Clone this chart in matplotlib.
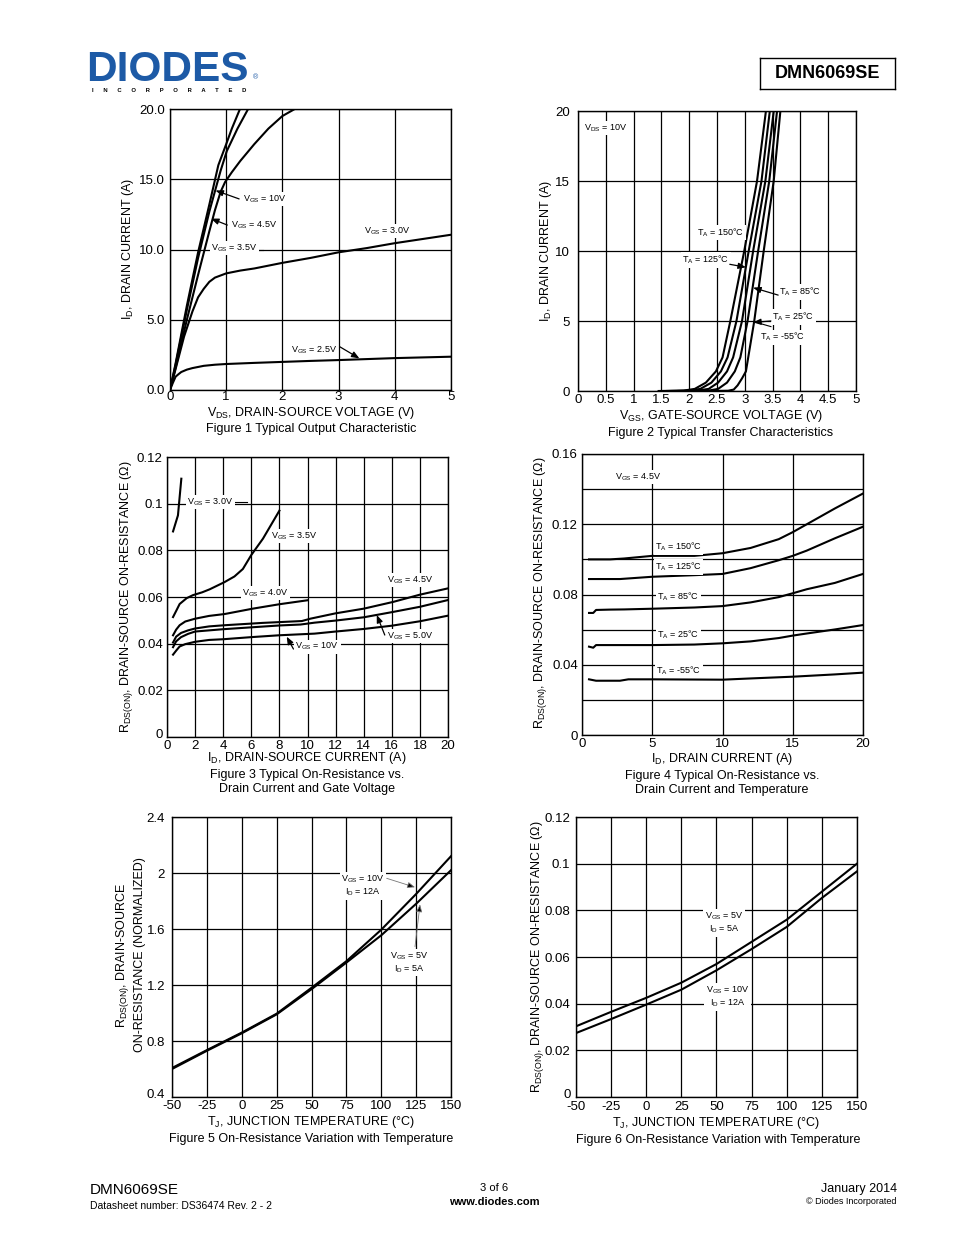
import matplotlib
matplotlib.use('Agg')
import matplotlib.pyplot as plt
from matplotlib.transforms import ScaledTranslation

plt.rcParams['font.family'] = ['Liberation Sans', 'DejaVu Sans']
plt.rcParams['mathtext.fontset'] = 'custom'
plt.rcParams['mathtext.rm'] = 'Liberation Sans'
plt.rcParams['mathtext.it'] = 'Liberation Sans'
plt.rcParams['mathtext.bf'] = 'Liberation Sans:bold'
plt.rcParams['mathtext.default'] = 'regular'

# ---------------- DATA ----------------
# Figure 1: output characteristic (VDS [V], ID [A])
f1_vds_10 = [0, 0.1, 0.3, 0.5, 0.7, 0.86, 1.0, 1.1, 1.245]
f1_id_10 = [0, 1.9, 6.0, 9.8, 13.2, 16.0, 17.5, 18.6, 20.0]
f1_vds_45 = [0, 0.1, 0.3, 0.5, 0.7, 0.9, 1.01, 1.2, 1.39]
f1_id_45 = [0, 1.8, 5.7, 9.4, 12.7, 15.6, 17.0, 18.6, 20.0]
f1_vds_35 = [0, 0.1, 0.3, 0.5, 0.7, 0.8, 0.9, 0.98, 1.1, 1.25, 1.5, 1.75, 2.0, 2.22]
f1_id_35 = [0, 1.6, 5.0, 8.2, 11.3, 12.8, 14.1, 14.8, 15.5, 16.3, 17.5, 18.6, 19.5, 20.0]
f1_vds_30 = [0, 0.1, 0.25, 0.4, 0.5, 0.6, 0.7, 0.8, 0.9, 1.0, 1.25, 1.5, 2, 2.5, 3, 3.5, 4, 4.5, 5]
f1_id_30 = [0, 1.5, 3.8, 5.6, 6.6, 7.2, 7.7, 8.0, 8.15, 8.3, 8.5, 8.65, 9.05, 9.4, 9.8, 10.1, 10.45, 10.75, 11.05]
f1_vds_25 = [0, 0.05, 0.1, 0.15, 0.2, 0.3, 0.4, 0.6, 0.8, 1.0, 1.5, 2, 2.5, 3, 3.5, 4, 4.5, 5]
f1_id_25 = [0, 0.5, 0.95, 1.12, 1.28, 1.45, 1.56, 1.72, 1.8, 1.85, 1.93, 2.0, 2.07, 2.13, 2.2, 2.27, 2.32, 2.37]

# Figure 2: transfer characteristic (VGS [V], ID [A])
f2_id = [0, 0.03, 0.15, 0.6, 1.4, 2.4, 5, 10, 15, 20]
f2_vgs_150 = [1.45, 1.9, 2.1, 2.3, 2.48, 2.6, 2.74, 2.99, 3.22, 3.38]
f2_vgs_125 = [1.6, 2.0, 2.2, 2.4, 2.57, 2.69, 2.85, 3.07, 3.30, 3.45]
f2_vgs_85 = [1.8, 2.15, 2.35, 2.52, 2.68, 2.79, 2.95, 3.15, 3.37, 3.52]
f2_vgs_25 = [2.0, 2.35, 2.52, 2.68, 2.82, 2.92, 3.05, 3.24, 3.44, 3.58]
f2_id_m55 = [0, 0.02, 0.1, 0.4, 0.9, 1.4, 5, 10, 15, 20]
f2_vgs_m55 = [2.3, 2.7, 2.8, 2.87, 2.95, 3.02, 3.17, 3.34, 3.52, 3.64]

# Figure 3: RDS(ON) vs ID and VGS
f3_id_30 = [0.43, 0.78, 1.02]
f3_r_30 = [0.0881, 0.095, 0.1107]
f3_id_35 = [0.43, 0.65, 0.9, 1.4, 1.85, 2.5, 3.04, 4.1, 4.8, 5.4, 6.0, 6.83, 8.0]
f3_r_35 = [0.0514, 0.054, 0.057, 0.0595, 0.0608, 0.062, 0.0633, 0.0664, 0.0688, 0.072, 0.078, 0.085, 0.097]
f3_id_40 = [0.43, 0.65, 0.9, 1.3, 2.0, 3.0, 4.1, 6.1, 8.0, 10.0]
f3_r_40 = [0.0436, 0.046, 0.0479, 0.0495, 0.0507, 0.0519, 0.0527, 0.055, 0.0569, 0.0586]
f3_id_45 = [0.43, 0.65, 1.0, 1.5, 2, 3, 4.1, 6.8, 9.6, 10.2, 12, 14, 16.1, 18, 20]
f3_r_45 = [0.0405, 0.043, 0.0446, 0.0457, 0.0465, 0.0474, 0.0479, 0.0489, 0.0497, 0.0507, 0.053, 0.055, 0.0579, 0.061, 0.0637]
f3_id_50 = [0.43, 0.65, 1.0, 1.5, 2, 4, 6, 8, 9.5, 10.5, 12, 14, 16, 18, 20]
f3_r_50 = [0.0385, 0.041, 0.0428, 0.0442, 0.0452, 0.0462, 0.047, 0.0478, 0.0482, 0.049, 0.0499, 0.0513, 0.0535, 0.0558, 0.0587]
f3_id_10 = [0.43, 0.65, 0.9, 1.3, 2, 3, 4, 6, 8, 10.5, 12, 14, 16, 18, 20]
f3_r_10 = [0.0353, 0.037, 0.0388, 0.0398, 0.0408, 0.0416, 0.0419, 0.0428, 0.0436, 0.0443, 0.0452, 0.0463, 0.0477, 0.0496, 0.052]

# Figure 4: RDS(ON) vs ID and temperature
f4_id_150 = [0.5, 2, 3, 5, 8, 10, 12, 14, 15, 16, 18, 20]
f4_r_150 = [0.100, 0.100, 0.1005, 0.102, 0.102, 0.1035, 0.1065, 0.1115, 0.1155, 0.120, 0.129, 0.1375]
f4_id_125 = [0.5, 2.7, 5, 8, 10, 12, 14, 15, 16, 18, 20]
f4_r_125 = [0.0888, 0.0888, 0.0901, 0.091, 0.0917, 0.095, 0.0995, 0.102, 0.105, 0.112, 0.1186]
f4_id_85 = [0.5, 0.8, 1.0, 2, 3, 5, 8, 10, 12, 14, 15, 16, 18, 20]
f4_r_85 = [0.0695, 0.0695, 0.0712, 0.0714, 0.0715, 0.0719, 0.0726, 0.0734, 0.0755, 0.0785, 0.0807, 0.083, 0.0866, 0.0917]
f4_id_25 = [0.5, 0.8, 1.0, 2, 5, 8, 10, 12, 14, 15, 16, 18, 20]
f4_r_25 = [0.0503, 0.0497, 0.0512, 0.0512, 0.0512, 0.0515, 0.0522, 0.0533, 0.0552, 0.0566, 0.0578, 0.0601, 0.0626]
f4_id_m55 = [0.5, 1.0, 2.7, 3.3, 5, 10, 12, 15, 18, 20]
f4_r_m55 = [0.0317, 0.0309, 0.0309, 0.0317, 0.0317, 0.0315, 0.0322, 0.0332, 0.0345, 0.0355]

# Figure 5: normalized RDS(ON) vs temperature
f5_t = [-50, -25, 0, 25, 50, 75, 100, 125, 150]
f5_r_10v = [0.607, 0.735, 0.86, 0.995, 1.18, 1.37, 1.595, 1.85, 2.12]
f5_r_5v = [0.600, 0.730, 0.855, 0.990, 1.17, 1.36, 1.555, 1.78, 2.02]

# Figure 6: RDS(ON) vs temperature
f6_t = [-50, -25, 0, 25, 50, 75, 100, 125, 150]
f6_r_5v = [0.0303, 0.0365, 0.0425, 0.049, 0.057, 0.0665, 0.076, 0.088, 0.100]
f6_r_10v = [0.0274, 0.0334, 0.0396, 0.046, 0.0543, 0.0634, 0.0729, 0.0853, 0.0967]

# ---------------- FIGURE ----------------
W, H = 954, 1235
fig = plt.figure(figsize=(W / 100, H / 100), dpi=100)


def rect(l, t, r, b):
    return [l / W, 1 - b / H, (r - l) / W, (b - t) / H]


def ftext(x, y, s, **kw):
    kw.setdefault('ha', 'center')
    kw.setdefault('va', 'center')
    fig.text(x / W, 1 - y / H, s, **kw)


LW = 1.5
TICK_FS = 9.5
LAB_FS = 9
ANN_FS = 6.5
BOX = dict(facecolor='white', edgecolor='none', pad=1.0)


def setup(ax, xlim, ylim, xt, yt, xl, yl, ypad=3, xpad=2):
    ax.set_xlim(*xlim)
    ax.set_ylim(*ylim)
    ax.set_xticks(xt)
    ax.set_yticks(yt)
    ax.set_xticklabels(xl, fontsize=TICK_FS)
    ax.set_yticklabels(yl, fontsize=TICK_FS)
    ax.tick_params(length=0, pad=xpad, axis='x')
    ax.tick_params(length=0, pad=ypad, axis='y')
    ax.grid(True, color='black', lw=0.9)
    ax.set_axisbelow(True)
    for s in ax.spines.values():
        s.set_linewidth(1.0)


def lift_first_ylabel(ax, px=3):
    lab = ax.get_yticklabels()[0]
    lab.set_transform(lab.get_transform() + ScaledTranslation(0, px / 100, fig.dpi_scale_trans))


def label(ax, x, y, s, **kw):
    kw.setdefault('ha', 'center')
    kw.setdefault('va', 'center')
    ax.text(x, y, s, fontsize=ANN_FS, bbox=BOX, zorder=5, **kw)


def arrow(ax, x0, y0, x1, y1, color='black', lw=0.9):
    ax.annotate('', xy=(x1, y1), xytext=(x0, y0), zorder=6,
                arrowprops=dict(arrowstyle='-|>,head_length=0.45,head_width=0.18',
                                color=color, lw=lw, shrinkA=0, shrinkB=0,
                                fc='black', ec=color))


# ---- Figure 1 ----
ax1 = fig.add_axes(rect(170, 109, 451, 390))
setup(ax1, (0, 5), (0, 20), [0, 1, 2, 3, 4, 5], [0, 5, 10, 15, 20],
      ['0', '1', '2', '3', '4', '5'], ['0.0', '5.0', '10.0', '15.0', '20.0'],
      ypad=3.5, xpad=1)
for x, y in [(f1_vds_10, f1_id_10), (f1_vds_45, f1_id_45), (f1_vds_35, f1_id_35),
             (f1_vds_30, f1_id_30), (f1_vds_25, f1_id_25)]:
    ax1.plot(x, y, color='black', lw=LW, clip_on=True, zorder=3)
label(ax1, 1.69, 13.6, 'V$_{GS}$ = 10V')
arrow(ax1, 1.23, 13.6, 0.81, 14.2)
label(ax1, 1.50, 11.74, 'V$_{GS}$ = 4.5V')
arrow(ax1, 1.02, 11.74, 0.73, 12.2)
label(ax1, 1.14, 10.1, 'V$_{GS}$ = 3.5V')
ax1.plot([1.55, 1.65], [9.95, 9.95], color='black', lw=0.8, zorder=4)
label(ax1, 3.87, 11.3, 'V$_{GS}$ = 3.0V')
label(ax1, 2.56, 2.85, 'V$_{GS}$ = 2.5V')
arrow(ax1, 3.02, 3.08, 3.37, 2.25)
ftext(311, 413, 'V$_{DS}$, DRAIN-SOURCE VOLTAGE (V)', fontsize=LAB_FS)
ftext(311, 429, 'Figure 1 Typical Output Characteristic', fontsize=LAB_FS)
ftext(128, 249, 'I$_D$, DRAIN CURRENT (A)', fontsize=LAB_FS, rotation=90)

# ---- Figure 2 ----
ax2 = fig.add_axes(rect(578, 111, 856, 391))
xt2 = [0, 0.5, 1, 1.5, 2, 2.5, 3, 3.5, 4, 4.5, 5]
setup(ax2, (0, 5), (0, 20), xt2, [0, 5, 10, 15, 20],
      ['0', '0.5', '1', '1.5', '2', '2.5', '3', '3.5', '4', '4.5', '5'],
      ['0', '5', '10', '15', '20'], ypad=6)
for v in [f2_vgs_150, f2_vgs_125, f2_vgs_85, f2_vgs_25]:
    ax2.plot(v, f2_id, color='black', lw=LW, zorder=3)
ax2.plot(f2_vgs_m55, f2_id_m55, color='black', lw=LW, zorder=3)
label(ax2, 0.49, 18.8, 'V$_{DS}$ = 10V')
label(ax2, 2.57, 11.3, 'T$_A$ = 150°C')
label(ax2, 2.30, 9.36, 'T$_A$ = 125°C')
arrow(ax2, 2.73, 9.05, 3.02, 8.84)
label(ax2, 3.99, 7.07, 'T$_A$ = 85°C')
arrow(ax2, 3.60, 6.85, 3.15, 7.38)
label(ax2, 3.87, 5.28, 'T$_A$ = 25°C')
arrow(ax2, 3.47, 5.0, 3.15, 4.9)
ax2.plot([3.47, 3.25], [4.6, 4.85], color='black', lw=0.8, zorder=4)
label(ax2, 3.68, 3.84, 'T$_A$ = -55°C')
ftext(721, 416, 'V$_{GS}$, GATE-SOURCE VOLTAGE (V)', fontsize=LAB_FS)
ftext(721, 433, 'Figure 2 Typical Transfer Characteristics', fontsize=LAB_FS)
ftext(546, 251, 'I$_D$, DRAIN CURRENT (A)', fontsize=LAB_FS, rotation=90)

# ---- Figure 3 ----
ax3 = fig.add_axes(rect(167, 457, 448, 737))
setup(ax3, (0, 20), (0, 0.12), list(range(0, 21, 2)),
      [0, 0.02, 0.04, 0.06, 0.08, 0.1, 0.12],
      [str(v) for v in range(0, 21, 2)],
      ['0', '0.02', '0.04', '0.06', '0.08', '0.1', '0.12'], ypad=3)
lift_first_ylabel(ax3, 3)
for x, y in [(f3_id_30, f3_r_30), (f3_id_35, f3_r_35), (f3_id_40, f3_r_40),
             (f3_id_45, f3_r_45), (f3_id_50, f3_r_50), (f3_id_10, f3_r_10)]:
    ax3.plot(x, y, color='black', lw=LW, zorder=3)
label(ax3, 3.10, 0.1007, 'V$_{GS}$ = 3.0V')
ax3.plot([4.7, 5.7], [0.1005, 0.1005], color='black', lw=0.8, zorder=4)
label(ax3, 9.04, 0.0861, 'V$_{GS}$ = 3.5V')
label(ax3, 6.98, 0.0616, 'V$_{GS}$ = 4.0V')
label(ax3, 17.3, 0.0673, 'V$_{GS}$ = 4.5V')
label(ax3, 17.3, 0.0433, 'V$_{GS}$ = 5.0V')
arrow(ax3, 15.5, 0.0437, 14.93, 0.0523)
label(ax3, 10.7, 0.0387, 'V$_{GS}$ = 10V')
arrow(ax3, 9.0, 0.0377, 8.52, 0.0430)
ftext(307, 758, 'I$_D$, DRAIN-SOURCE CURRENT (A)', fontsize=LAB_FS)
ftext(307, 775, 'Figure 3 Typical On-Resistance vs.', fontsize=LAB_FS)
ftext(307, 789, 'Drain Current and Gate Voltage', fontsize=LAB_FS)
ftext(127, 597, 'R$_{DS(ON)}$, DRAIN-SOURCE ON-RESISTANCE (Ω)', fontsize=LAB_FS, rotation=90)

# ---- Figure 4 ----
ax4 = fig.add_axes(rect(582, 454, 863, 735))
yt4 = [0, 0.02, 0.04, 0.06, 0.08, 0.10, 0.12, 0.14, 0.16]
setup(ax4, (0, 20), (0, 0.16), [0, 5, 10, 15, 20], yt4,
      ['0', '5', '10', '15', '20'],
      ['0', '', '0.04', '', '0.08', '', '0.12', '', '0.16'], ypad=3)
for x, y in [(f4_id_150, f4_r_150), (f4_id_125, f4_r_125), (f4_id_85, f4_r_85),
             (f4_id_25, f4_r_25), (f4_id_m55, f4_r_m55)]:
    ax4.plot(x, y, color='black', lw=LW, zorder=3)
label(ax4, 4.02, 0.1468, 'V$_{GS}$ = 4.5V')
label(ax4, 6.87, 0.1070, 'T$_A$ = 150°C')
label(ax4, 6.87, 0.0956, 'T$_A$ = 125°C')
label(ax4, 6.85, 0.0787, 'T$_A$ = 85°C')
label(ax4, 6.85, 0.0569, 'T$_A$ = 25°C')
label(ax4, 6.90, 0.0366, 'T$_A$ = -55°C')
ftext(722, 759, 'I$_D$, DRAIN CURRENT (A)', fontsize=LAB_FS)
ftext(722, 776, 'Figure 4 Typical On-Resistance vs.', fontsize=LAB_FS)
ftext(722, 790, 'Drain Current and Temperature', fontsize=LAB_FS)
ftext(541, 593, 'R$_{DS(ON)}$, DRAIN-SOURCE ON-RESISTANCE (Ω)', fontsize=LAB_FS, rotation=90)

# ---- Figure 5 ----
ax5 = fig.add_axes(rect(172, 817, 451, 1097))
xt56 = [-50, -25, 0, 25, 50, 75, 100, 125, 150]
setup(ax5, (-50, 150), (0.4, 2.4), xt56, [0.4, 0.8, 1.2, 1.6, 2.0, 2.4],
      [str(v) for v in xt56], ['0.4', '0.8', '1.2', '1.6', '2', '2.4'], ypad=5)
lift_first_ylabel(ax5, 3)
ax5.plot(f5_t, f5_r_10v, color='black', lw=LW, zorder=3)
ax5.plot(f5_t, f5_r_5v, color='black', lw=LW, zorder=3)
label(ax5, 86.9, 1.907, 'V$_{GS}$ = 10V\nI$_D$ = 12A', linespacing=1.1)
arrow(ax5, 103.9, 1.962, 124.2, 1.898, color='#777777', lw=0.6)
label(ax5, 119.9, 1.361, 'V$_{GS}$ = 5V\nI$_D$ = 5A', linespacing=1.1)
arrow(ax5, 124.2, 1.474, 127.8, 1.776, color='#777777', lw=0.6)
ftext(311, 1122, 'T$_J$, JUNCTION TEMPERATURE (°C)', fontsize=LAB_FS)
ftext(311, 1139, 'Figure 5 On-Resistance Variation with Temperature', fontsize=LAB_FS)
ftext(123, 955, 'R$_{DS(ON)}$, DRAIN-SOURCE', fontsize=LAB_FS, rotation=90)
ftext(140, 955, 'ON-RESISTANCE (NORMALIZED)', fontsize=LAB_FS, rotation=90)

# ---- Figure 6 ----
ax6 = fig.add_axes(rect(576, 817, 857, 1097))
setup(ax6, (-50, 150), (0, 0.12), xt56, [0, 0.02, 0.04, 0.06, 0.08, 0.1, 0.12],
      [str(v) for v in xt56], ['0', '0.02', '0.04', '0.06', '0.08', '0.1', '0.12'],
      ypad=4, xpad=3)
lift_first_ylabel(ax6, 4)
ax6.plot(f6_t, f6_r_5v, color='black', lw=LW, zorder=3)
ax6.plot(f6_t, f6_r_10v, color='black', lw=LW, zorder=3)
label(ax6, 55.3, 0.0746, 'V$_{GS}$ = 5V\nI$_D$ = 5A', linespacing=1.1)
label(ax6, 57.8, 0.0429, 'V$_{GS}$ = 10V\nI$_D$ = 12A', linespacing=1.1)
ftext(716, 1123, 'T$_J$, JUNCTION TEMPERATURE (°C)', fontsize=LAB_FS)
ftext(718, 1140, 'Figure 6 On-Resistance Variation with Temperature', fontsize=LAB_FS)
ftext(538, 957, 'R$_{DS(ON)}$, DRAIN-SOURCE ON-RESISTANCE (Ω)', fontsize=LAB_FS, rotation=90)

# ---------------- HEADER ----------------
BLUE = '#1d5aa6'
ftext(167, 81, 'DIODES', fontsize=30.5, fontweight='heavy', color=BLUE, va='baseline')
ftext(169, 91, '      '.join('INCORPORATED'), fontsize=4.2, fontweight='bold', color='black')
ftext(256, 78, '®', fontsize=5, color=BLUE)
box_ax = fig.add_axes(rect(760, 58, 895, 89))
box_ax.set_xticks([])
box_ax.set_yticks([])
for s in box_ax.spines.values():
    s.set_linewidth(1.0)
box_ax.text(0.5, 0.5, 'DMN6069SE', fontsize=13, fontweight='bold',
            ha='center', va='center', transform=box_ax.transAxes)

# ---------------- FOOTER ----------------
ftext(90, 1190, 'DMN6069SE', fontsize=11, ha='left')
ftext(90, 1206, 'Datasheet number: DS36474 Rev. 2 - 2', fontsize=7.5, ha='left')
ftext(494, 1188, '3 of 6', fontsize=8)
ftext(494, 1202, 'www.diodes.com', fontsize=8, fontweight='bold')
ftext(897, 1189, 'January 2014', fontsize=9, ha='right')
ftext(897, 1202, '© Diodes Incorporated', fontsize=6.5, ha='right')

fig.savefig('out.png', dpi=100)
